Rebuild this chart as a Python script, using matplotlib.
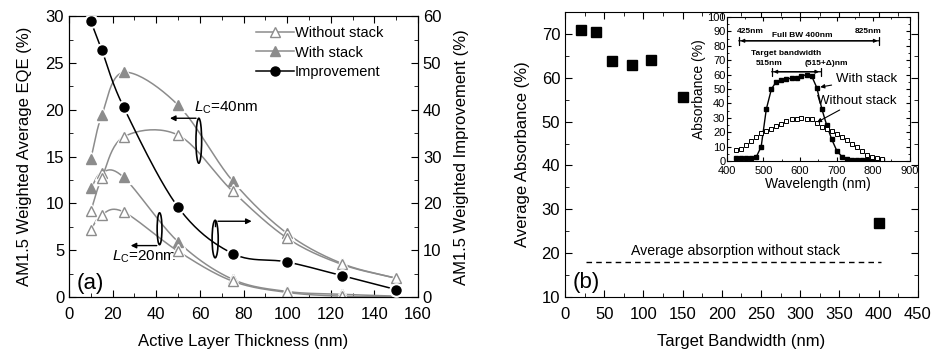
import numpy as np
import matplotlib.pyplot as plt
from matplotlib.patches import Ellipse
from matplotlib.lines import Line2D
from matplotlib.ticker import MultipleLocator

plt.rcParams['font.family'] = ['Liberation Sans', 'DejaVu Sans']
plt.rcParams['mathtext.fontset'] = 'custom'
plt.rcParams['mathtext.it'] = 'Liberation Sans:italic'
plt.rcParams['mathtext.rm'] = 'Liberation Sans'

# panel (a) data
thickness = [10, 15, 25, 50, 75, 100, 125, 150]
eqe_without_40 = [9.2, 12.7, 17.1, 17.3, 11.3, 6.3, 3.5, 2.0]
eqe_with_40 = [14.8, 19.4, 24.0, 20.5, 12.4, 6.8, 3.6, 2.0]
eqe_without_20 = [7.2, 8.8, 9.1, 4.9, 1.7, 0.5, 0.1, 0.05]
eqe_with_20 = [11.6, 13.3, 12.8, 5.9, 1.9, 0.6, 0.3, 0.1]
improvement = [58.9, 52.8, 40.6, 19.2, 9.3, 7.5, 4.6, 1.6]

# panel (b) data
bandwidth = [20, 40, 60, 85, 110, 150, 400]
avg_abs = [71.0, 70.5, 63.8, 62.9, 64.0, 55.6, 27.0]
avg_no_stack = 18

# inset data
wavelength = [425, 439, 453, 466, 480, 494, 508, 522, 535, 549, 563, 577, 591, 604, 618,
              632, 646, 660, 673, 687, 701, 715, 729, 742, 756, 770, 784, 798, 811, 825]
abs_with = [2, 2, 2, 2, 2.5, 10, 36, 50, 55, 56, 57, 57.5, 58, 59, 60,
            59, 51, 36, 25, 15, 7, 3, 1.5, 1, 0.5, 0.5, 0.5, 0.5, 0.5, 0.5]
abs_without = [7.5, 8, 11, 14, 17, 19.5, 21, 22.5, 24, 26, 27.5, 29, 29.5, 30, 29.5,
               29, 26.5, 23.5, 22, 20.5, 19, 17, 14.5, 12, 9.5, 7, 4.5, 3, 2, 1.5]

GRAY = '#8c8c8c'


def smooth(x, y, n=24):
    # catmull-rom curve drawn through the points
    p = np.column_stack([x, y]).astype(float)
    p = np.vstack([2 * p[0] - p[1], p, 2 * p[-1] - p[-2]])
    t = np.linspace(0, 1, n)[:, None]
    out = []
    for i in range(1, len(p) - 2):
        p0, p1, p2, p3 = p[i - 1], p[i], p[i + 1], p[i + 2]
        seg = 0.5 * (2 * p1 + (p2 - p0) * t + (2 * p0 - 5 * p1 + 4 * p2 - p3) * t ** 2
                     + (-p0 + 3 * p1 - 3 * p2 + p3) * t ** 3)
        out.append(seg)
    out = np.vstack(out)
    return out[:, 0], out[:, 1]


def series(ax, x, y, marker, face, edge, lc, ms=7, z=3):
    sx, sy = smooth(x, y)
    ax.plot(sx, sy, color=lc, lw=1.1, zorder=z)
    ax.plot(x, y, ls='none', marker=marker, ms=ms + 3, mfc='white', mec='white', zorder=z + 0.1)
    ax.plot(x, y, ls='none', marker=marker, ms=ms, mfc=face, mec=edge, mew=1.0, zorder=z + 0.2)


def style_ticks(ax, **kw):
    ax.tick_params(which='both', direction='in', labelsize=12, **kw)
    ax.tick_params(which='major', length=5)
    ax.tick_params(which='minor', length=3)
    ax.tick_params(axis='x', pad=7)


fig = plt.figure(figsize=(9.33, 3.52), dpi=100)

# ---- panel (a)
ax = fig.add_axes([0.074, 0.156, 0.374, 0.798])
series(ax, thickness, eqe_with_40, '^', GRAY, GRAY, GRAY)
series(ax, thickness, eqe_without_40, '^', 'white', GRAY, GRAY, z=4)
series(ax, thickness, eqe_with_20, '^', GRAY, GRAY, GRAY)
series(ax, thickness, eqe_without_20, '^', 'white', GRAY, GRAY, z=4)
ax.set_xlim(0, 160)
ax.set_ylim(0, 30)
ax.xaxis.set_major_locator(MultipleLocator(20))
ax.xaxis.set_minor_locator(MultipleLocator(10))
ax.yaxis.set_major_locator(MultipleLocator(5))
ax.yaxis.set_minor_locator(MultipleLocator(2.5))
style_ticks(ax, top=True, right=False)
ax.set_xlabel('Active Layer Thickness (nm)', fontsize=12, labelpad=9)
ax.set_ylabel('AM1.5 Weighted Average EQE (%)', fontsize=12, labelpad=10)

ax2 = ax.twinx()
series(ax2, thickness, improvement, 'o', 'black', 'black', 'black', ms=6.5, z=5)
ax2.set_ylim(0, 60)
ax2.yaxis.set_major_locator(MultipleLocator(10))
ax2.yaxis.set_minor_locator(MultipleLocator(5))
style_ticks(ax2, right=True)
ax2.set_ylabel('AM1.5 Weighted Improvement (%)', fontsize=12, labelpad=9)

# legend
handles = [Line2D([], [], color=GRAY, marker='^', mfc='white', mec=GRAY, ms=7, lw=1.1),
           Line2D([], [], color=GRAY, marker='^', mfc=GRAY, mec=GRAY, ms=7, lw=1.1),
           Line2D([], [], color='black', marker='o', mfc='black', ms=6.5, lw=1.1)]
ax2.legend(handles, ['Without stack', 'With stack', 'Improvement'], loc='upper right',
           frameon=False, fontsize=10.5, handlelength=2.6, handletextpad=0.1,
           labelspacing=0.35, borderaxespad=0.3, bbox_to_anchor=(0.93, 1.0))

# annotations on panel (a)
for cx, cy, w, h in [(59.5, 16.7, 2.6, 4.8), (41.5, 7.3, 2.2, 3.4), (67.0, 6.2, 2.8, 4.0)]:
    ax.add_patch(Ellipse((cx, cy), w, h, fill=False, ec='black', lw=1.2, zorder=6))
arrow = dict(arrowstyle='-|>', color='black', lw=1.0, mutation_scale=8)
ax.annotate('', xy=(45, 19.1), xytext=(59.5, 19.1), arrowprops=arrow, zorder=6)
ax.annotate('', xy=(27, 5.5), xytext=(41.5, 5.5), arrowprops=arrow, zorder=6)
ax.plot([67, 67], [7.6, 8.1], color='black', lw=1.0, zorder=6)
ax.annotate('', xy=(85, 8.1), xytext=(67, 8.1), arrowprops=arrow, zorder=6)
ax.text(57.5, 20.2, r'$L_\mathrm{C}$=40nm', fontsize=11, va='center', ha='left')
ax.text(19.5, 4.3, r'$L_\mathrm{C}$=20nm', fontsize=11, va='center', ha='left')
ax.text(3.5, 1.5, '(a)', fontsize=16, va='center', ha='left')

# ---- panel (b)
bx = fig.add_axes([0.6056, 0.156, 0.378, 0.810])
bx.plot(bandwidth, avg_abs, ls='none', marker='s', ms=6.5, color='black')
bx.plot([27, 403], [avg_no_stack, avg_no_stack], ls=(0, (4, 3)), color='black', lw=1.0)
bx.text(217, avg_no_stack + 2.6, 'Average absorption without stack', fontsize=10.2,
        ha='center', va='center')
bx.text(10, 13.4, '(b)', fontsize=16, va='center', ha='left')
bx.set_xlim(0, 450)
bx.set_ylim(10, 75)
bx.xaxis.set_major_locator(MultipleLocator(50))
bx.xaxis.set_minor_locator(MultipleLocator(25))
bx.yaxis.set_major_locator(MultipleLocator(10))
bx.yaxis.set_minor_locator(MultipleLocator(5))
style_ticks(bx, top=True, right=True)
bx.set_xlabel('Target Bandwidth (nm)', fontsize=12, labelpad=9)
bx.set_ylabel('Average Absorbance (%)', fontsize=12, labelpad=8)

# ---- inset
ix = fig.add_axes([0.779, 0.5426, 0.196, 0.409])
ix.plot(wavelength, abs_with, color='black', lw=1.0, marker='s', ms=3.4, mfc='black')
ix.plot(wavelength, abs_without, ls='none', marker='s', ms=3.4, mfc='white', mec='black', mew=0.7)
ix.set_xlim(400, 900)
ix.set_ylim(0, 100)
ix.xaxis.set_major_locator(MultipleLocator(100))
ix.xaxis.set_minor_locator(MultipleLocator(50))
ix.yaxis.set_major_locator(MultipleLocator(10))
ix.yaxis.set_minor_locator(MultipleLocator(5))
ix.tick_params(which='both', direction='in', top=True, right=True, labelsize=8, pad=1)
ix.tick_params(axis='x', pad=3.5)
ix.tick_params(which='major', length=3)
ix.tick_params(which='minor', length=1.5)
ix.set_xlabel('Wavelength (nm)', fontsize=10, labelpad=0.5)
ix.set_ylabel('Absorbance (%)', fontsize=10, labelpad=1)

bar = dict(arrowstyle='|-|', color='black', lw=0.9, mutation_scale=3)
ix.annotate('', xy=(425, 83.5), xytext=(825, 83.5), arrowprops=bar)
ix.annotate('', xy=(430, 83.5), xytext=(820, 83.5),
            arrowprops=dict(arrowstyle='<|-|>', color='black', lw=0.9, mutation_scale=5))
ix.annotate('', xy=(515, 62), xytext=(665, 62), arrowprops=bar)
ix.annotate('', xy=(520, 62), xytext=(660, 62),
            arrowprops=dict(arrowstyle='<|-|>', color='black', lw=0.9, mutation_scale=5))
small = dict(fontsize=6, fontweight='bold', va='center')
ix.text(427, 90, '425nm', ha='left', **small)
ix.text(823, 90, '825nm', ha='right', **small)
ix.text(607, 87.5, 'Full BW 400nm', ha='center', **small)
ix.text(561, 74.5, 'Target bandwidth', ha='center', **small)
ix.text(516, 67.8, '515nm', ha='center', **small)
ix.text(671, 67.8, '(515+Δ)nm', ha='center', **small)
ix.annotate('With stack', xy=(648, 51), xytext=(865, 57), fontsize=9.5, ha='right', va='center',
            arrowprops=dict(arrowstyle='-|>', color='black', lw=0.8, mutation_scale=6, shrinkA=1))
ix.annotate('Without stack', xy=(640, 26), xytext=(865, 42), fontsize=9.5, ha='right', va='center',
            arrowprops=dict(arrowstyle='-|>', color='black', lw=0.8, mutation_scale=6, shrinkA=1))

fig.savefig('out.png', dpi=100)
